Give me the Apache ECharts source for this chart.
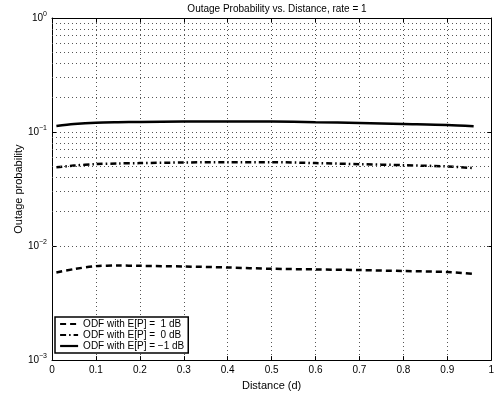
<!DOCTYPE html>
<html>
<head>
<meta charset="utf-8">
<script src="https://cdn.jsdelivr.net/npm/echarts@6/dist/echarts.min.js"></script>
<style>html,body{margin:0;padding:0;background:#fff}#c{width:497px;height:396px}</style>
</head>
<body>
<div id="c"></div>
<script>
var titleText = 'Outage Probability vs. Distance, rate = 1';
var xName = 'Distance (d)';
var yName = 'Outage probability';
var distances = [0.01, 0.05, 0.1, 0.15, 0.2, 0.3, 0.4, 0.5, 0.6, 0.7, 0.8, 0.9, 0.96];
var seriesNames = ['ODF with E[P] =  1 dB', 'ODF with E[P] =  0 dB', 'ODF with E[P] = \u22121 dB'];
var odf1dB  = [0.00587, 0.00628, 0.00667, 0.00675, 0.00671, 0.00662, 0.00649, 0.00632, 0.00624, 0.00616, 0.00604, 0.00592, 0.00569];
var odf0dB  = [0.0490, 0.0508, 0.0523, 0.0530, 0.0534, 0.0541, 0.0544, 0.0544, 0.0534, 0.0523, 0.0512, 0.0499, 0.0483];
var odfm1dB = [0.1132, 0.1175, 0.1208, 0.1220, 0.1226, 0.1238, 0.1240, 0.1238, 0.1220, 0.1201, 0.1178, 0.1155, 0.1124];
var yMin = 0.001, yMax = 1;
var xMin = 0, xMax = 1, xStep = 0.1;

// minor log gridline positions (2..9 x decade)
var minorGrid = [];
for (var e = -3; e < 0; e++) {
  for (var m = 2; m <= 9; m++) minorGrid.push(+(m * Math.pow(10, e)).toPrecision(3));
}

function pairs(xs, ys) { return xs.map(function (x, i) { return [x, ys[i]]; }); }

var font = 'Liberation Sans, Arial, sans-serif';
var dashStyles = [[6, 4], [6, 3, 1.5, 3], 'solid'];
var chart = echarts.init(document.getElementById('c'), null, {renderer: 'canvas'});
var gridLine = {show: true, lineStyle: {color: '#555', width: 1, type: [1, 3]}};

chart.setOption({
  animation: false,
  backgroundColor: '#fff',
  title: {text: titleText, left: 272, top: -1, textAlign: 'center',
    textStyle: {fontFamily: font, fontSize: 10, fontWeight: 'normal', color: '#000'}},
  grid: {left: 52, right: 5, top: 18, bottom: 32},
  legend: {
    left: 55, top: 317, orient: 'vertical', itemGap: 1, itemWidth: 18, itemHeight: 11,
    backgroundColor: '#fff', borderColor: '#000', borderWidth: 1.5, borderRadius: 0,
    padding: [2, 4, 2, 4],
    itemStyle: {opacity: 0},
    textStyle: {fontFamily: font, fontSize: 10, color: '#000'},
    data: seriesNames.map(function (n, i) {
      return {name: n, itemStyle: {opacity: 0}, lineStyle: {type: dashStyles[i], width: 2.2, color: '#000', opacity: 1}};
    })
  },
  xAxis: [{
    type: 'value', min: xMin, max: xMax, interval: xStep, position: 'bottom',
    name: xName, nameLocation: 'middle', nameGap: 16,
    nameTextStyle: {fontFamily: font, fontSize: 11, color: '#000'},
    axisLine: {show: true, onZero: false, lineStyle: {color: '#000', width: 1}},
    axisTick: {show: true, inside: true, length: 4, lineStyle: {color: '#000'}},
    axisLabel: {fontFamily: font, fontSize: 10, color: '#000', margin: 5,
      formatter: function (v) { return +v.toFixed(1) + ''; }},
    splitLine: gridLine
  }, {
    type: 'value', min: xMin, max: xMax, interval: xStep, position: 'top',
    axisLine: {show: true, onZero: false, lineStyle: {color: '#000', width: 1}},
    axisTick: {show: true, inside: true, length: 4, lineStyle: {color: '#000'}},
    axisLabel: {show: false}, splitLine: {show: false}
  }],
  yAxis: [{
    type: 'log', logBase: 10, min: yMin, max: yMax, position: 'left',
    name: yName, nameLocation: 'middle', nameGap: 28, nameRotate: 90, nameMoveOverlap: false,
    nameTextStyle: {fontFamily: font, fontSize: 11, color: '#000'},
    axisLine: {show: true, onZero: false, lineStyle: {color: '#000', width: 1}},
    axisTick: {show: true, inside: true, length: 4, lineStyle: {color: '#000'}},
    axisLabel: {fontFamily: font, fontSize: 10, color: '#000', margin: 5,
      formatter: function (v) {
        var ex = Math.round(Math.log10(v));
        return '10{sup|' + (ex < 0 ? '\u2212' + (-ex) : ex) + '}';
      },
      rich: {sup: {fontFamily: font, fontSize: 7, verticalAlign: 'top', padding: [0, 0, 8, 0], color: '#000'}}
    },
    splitLine: gridLine
  }, {
    type: 'log', logBase: 10, min: yMin, max: yMax, position: 'right',
    axisLine: {show: true, onZero: false, lineStyle: {color: '#000', width: 1}},
    axisTick: {show: true, inside: true, length: 4, lineStyle: {color: '#000'}},
    axisLabel: {show: false}, splitLine: {show: false}
  }],
  series: [{
    name: 'minor-grid', type: 'line', data: [], silent: true,
    markLine: {silent: true, symbol: ['none', 'none'], label: {show: false},
      lineStyle: {color: '#555', width: 1, type: [1, 3]},
      data: minorGrid.map(function (v) { return {yAxis: v}; })}
  }, {
    name: seriesNames[0], type: 'line', data: pairs(distances, odf1dB), smooth: 0.3,
    showSymbol: false, symbol: 'none', color: '#000',
    lineStyle: {color: '#000', width: 2.5, type: dashStyles[0]}
  }, {
    name: seriesNames[1], type: 'line', data: pairs(distances, odf0dB), smooth: 0.3,
    showSymbol: false, symbol: 'none', color: '#000',
    lineStyle: {color: '#000', width: 2.5, type: dashStyles[1]}
  }, {
    name: seriesNames[2], type: 'line', data: pairs(distances, odfm1dB), smooth: 0.3,
    showSymbol: false, symbol: 'none', color: '#000',
    lineStyle: {color: '#000', width: 2.5}
  }]
});
</script>
</body>
</html>
